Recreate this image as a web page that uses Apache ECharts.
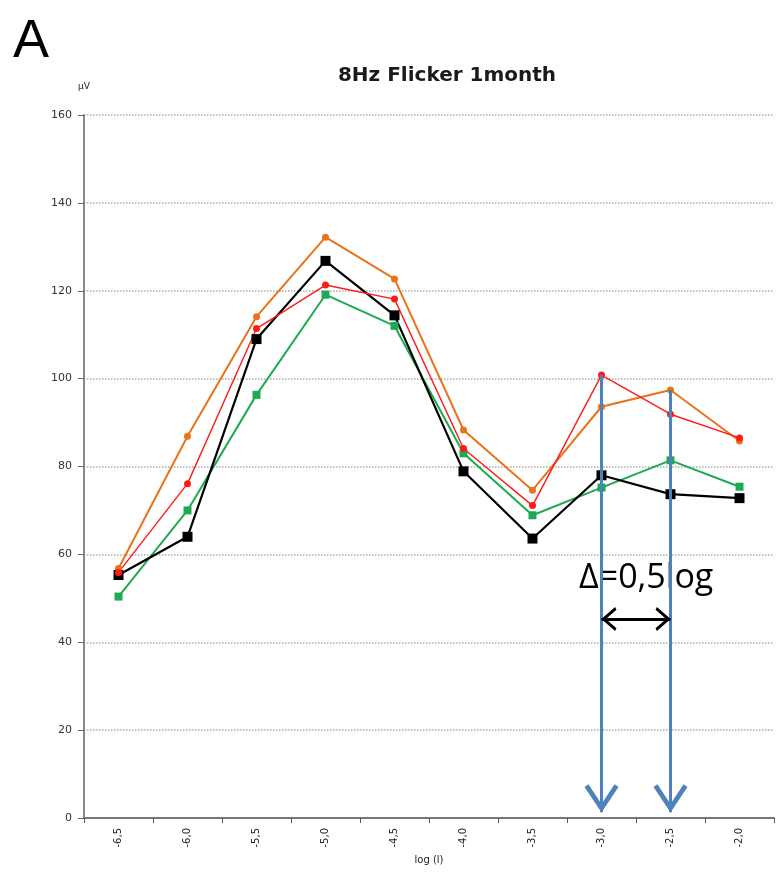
<!DOCTYPE html>
<html>
<head>
<meta charset="utf-8">
<script src="https://cdn.jsdelivr.net/npm/echarts@6/dist/echarts.min.js"></script>
<style>
  html, body { margin: 0; padding: 0; background: #fff; }
  #chart { width: 778px; height: 872px; }
</style>
</head>
<body>
<div id="chart"></div>
<script>
// x categories: log (l)
const logLabels = ["-6,5", "-6,0", "-5,5", "-5,0", "-4,5", "-4,0", "-3,5", "-3,0", "-2,5", "-2,0"];
const yTicks = [0, 20, 40, 60, 80, 100, 120, 140, 160];

// amplitudes in µV
const orangeVals = [56.8, 86.9, 114.1, 132.2, 122.7, 88.3, 74.6, 93.6, 97.4, 85.8];
const redVals    = [55.9, 76.1, 111.4, 121.3, 118.1, 84.1, 71.1, 100.8, 91.9, 86.5];
const blackVals  = [55.3, 64.0, 109.0, 126.8, 114.4, 78.9, 63.6, 78.0, 73.7, 72.8];
const greenVals  = [50.4, 70.0, 96.3, 119.1, 112.0, 83.0, 68.9, 75.2, 81.4, 75.4];

// annotation: blue arrows from the two peaks, and the 0.5 log span
const arrowFrom = [["-3,0", 100.8], ["-2,5", 97.4]];
const arrowTipValue = 1.3;
const spanValue = 45.3;

// open chevron pointing up; the tiny triangle above the tip puts the tip at the symbol centre
const chevron = "path://M15,-26 L15.05,-26 L15,-25.95 Z M15,0 L30,24 L26.5,26.5 L15,8 L3.5,26.5 L0,24 Z";

const chart = echarts.init(document.getElementById("chart"));

function lineSeries(name, data, color, width, symbol, size) {
  return {
    name: name,
    type: "line",
    data: data,
    symbol: symbol,
    symbolSize: size,
    showAllSymbol: true,
    lineStyle: { color: color, width: width },
    itemStyle: { color: color, borderWidth: 0 },
    emphasis: { disabled: true },
    animation: false
  };
}

chart.setOption({
  animation: false,
  grid: { left: 84, right: 4, top: 115, bottom: 54 },
  graphic: [
    {
      type: "text",
      left: 13,
      top: 15,
      style: { text: "A", font: "54px 'Liberation Sans', Arial", fill: "#000" }
    },
    {
      type: "text",
      x: 447,
      y: 76,
      style: {
        text: "8Hz Flicker 1month",
        font: "bold 20px 'DejaVu Sans'",
        fill: "#1a1a1a",
        textAlign: "center",
        textVerticalAlign: "middle"
      }
    },
    {
      type: "text",
      x: 579,
      y: 578,
      style: {
        text: "Δ=0,5log",
        font: "34px 'Open Sans'",
        fill: "#000",
        textAlign: "left",
        textVerticalAlign: "middle"
      }
    }
  ],
  xAxis: {
    type: "category",
    data: logLabels,
    boundaryGap: true,
    name: "log (l)",
    nameLocation: "middle",
    nameGap: 36,
    nameTextStyle: { fontFamily: "DejaVu Sans", fontSize: 10, color: "#222" },
    axisLine: { lineStyle: { color: "#777", width: 2 } },
    axisTick: { show: true, length: 5, lineStyle: { color: "#555" } },
    axisLabel: {
      rotate: 90,
      fontFamily: "DejaVu Sans",
      fontSize: 10,
      color: "#222",
      margin: 10
    },
    splitLine: { show: false }
  },
  yAxis: {
    type: "value",
    min: yTicks[0],
    max: yTicks[yTicks.length - 1],
    interval: 20,
    name: "µV",
    nameLocation: "end",
    nameGap: 24,
    nameTextStyle: { fontFamily: "DejaVu Sans", fontSize: 9, color: "#222", align: "center" },
    axisLine: { show: true, lineStyle: { color: "#888", width: 2 } },
    axisTick: { show: true, length: 6, lineStyle: { color: "#666" } },
    axisLabel: {
      fontFamily: "DejaVu Sans",
      fontSize: 11,
      color: "#333",
      margin: 12
    },
    splitLine: { show: true, lineStyle: { color: "#aaa", type: "dotted", width: 1.5 } }
  },
  series: [
    lineSeries("orange", orangeVals, "#e8731a", 2, "circle", 7),
    lineSeries("green", greenVals, "#1daa50", 2, "rect", 8),
    lineSeries("black", blackVals, "#000000", 2.2, "rect", 10),
    lineSeries("red", redVals, "#ff1a1a", 1.4, "circle", 7),
    {
      name: "annotations",
      type: "line",
      data: [],
      silent: true,
      z: 5,
      markLine: {
        silent: true,
        animation: false,
        label: { show: false },
        emphasis: { disabled: true },
        data: [
          [
            { coord: arrowFrom[0], symbol: "none", lineStyle: { color: "#4f81bd", width: 3, type: "solid" } },
            { coord: [arrowFrom[0][0], arrowTipValue], symbol: chevron, symbolSize: [34, 56] }
          ],
          [
            { coord: arrowFrom[1], symbol: "none", lineStyle: { color: "#4f81bd", width: 3, type: "solid" } },
            { coord: [arrowFrom[1][0], arrowTipValue], symbol: chevron, symbolSize: [34, 56] }
          ],
          [
            { coord: ["-3,0", spanValue], symbol: chevron, symbolSize: [24, 30], lineStyle: { color: "#000", width: 3, type: "solid" } },
            { coord: ["-2,5", spanValue], symbol: chevron, symbolSize: [24, 30] }
          ]
        ]
      }
    }
  ]
});
</script>
</body>
</html>
